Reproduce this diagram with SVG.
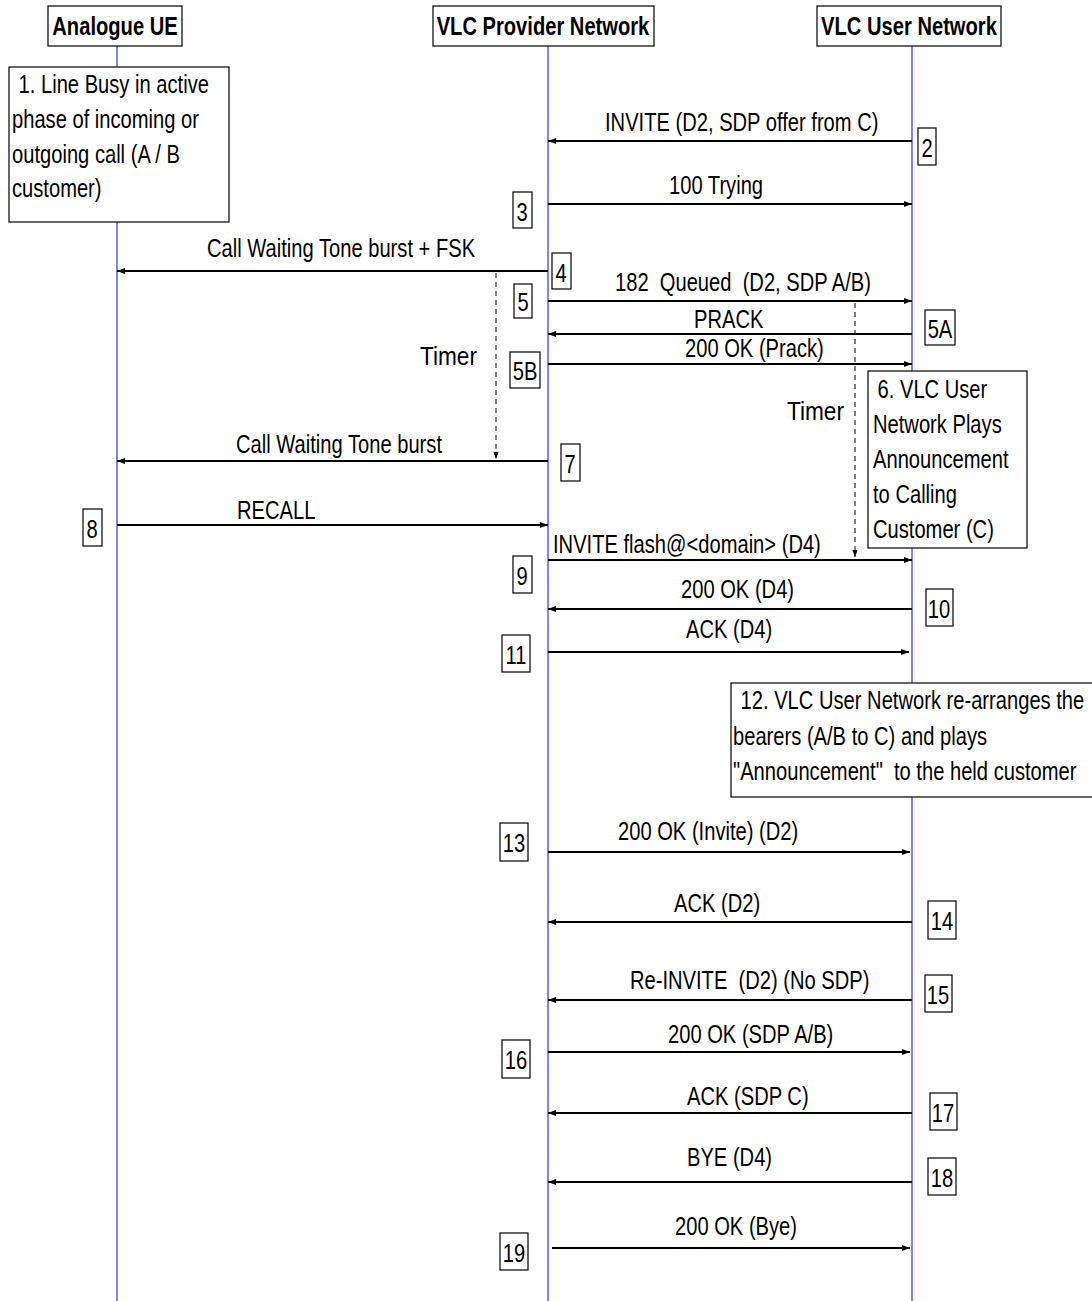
<svg xmlns="http://www.w3.org/2000/svg" width="1092" height="1301" viewBox="0 0 1092 1301">
<style>
text{font-family:"Liberation Sans",Arial,sans-serif;font-size:26px;fill:#000;white-space:pre}
.hd{font-weight:bold}
.box{fill:#fff;stroke:#000;stroke-width:1.2}
.life{stroke:#3030ff;stroke-width:1.2;fill:none}
.msg{stroke:#000;stroke-width:2;fill:none}
.tmr{stroke:#000;stroke-width:1;stroke-dasharray:5 4;fill:none}
</style>
<defs>
<marker id="ah" viewBox="0 0 8 6" refX="8" refY="3" markerWidth="8" markerHeight="6" markerUnits="userSpaceOnUse" orient="auto">
<path d="M0,0 L8,3 L0,6 z" fill="#000"/>
</marker>
<marker id="ahs" viewBox="0 0 8 6" refX="8" refY="3" markerWidth="7" markerHeight="6" markerUnits="userSpaceOnUse" orient="auto">
<path d="M0,0 L8,3 L0,6 z" fill="#000"/>
</marker>
</defs>
<rect width="1092" height="1301" fill="#fff"/>
<g id="lifelines">
<line class="life" x1="117" y1="46" x2="117" y2="1301"/>
<line class="life" x1="548" y1="46" x2="548" y2="1301"/>
<line class="life" x1="912" y1="46" x2="912" y2="1301"/>
</g>
<g id="node-analogue-ue"><rect class="box" x="48" y="6" width="134" height="40"/><text class="hd" x="115" y="35" text-anchor="middle" transform="translate(25.875,0) scale(0.775,1)">Analogue UE</text></g>
<g id="node-vlc-provider"><rect class="box" x="433" y="6" width="221" height="40"/><text class="hd" x="543" y="35" text-anchor="middle" transform="translate(122.175,0) scale(0.775,1)">VLC Provider Network</text></g>
<g id="node-vlc-user"><rect class="box" x="817" y="6" width="184" height="40"/><text class="hd" x="909" y="35" text-anchor="middle" transform="translate(204.525,0) scale(0.775,1)">VLC User Network</text></g>
<g id="connectors">
<line class="msg" x1="912" y1="141" x2="548" y2="141" marker-end="url(#ah)"/>
<line class="msg" x1="548" y1="204" x2="912" y2="204" marker-end="url(#ah)"/>
<line class="msg" x1="548" y1="271" x2="117" y2="271" marker-end="url(#ah)"/>
<line class="msg" x1="548" y1="301" x2="912" y2="301" marker-end="url(#ah)"/>
<line class="msg" x1="912" y1="334" x2="548" y2="334" marker-end="url(#ah)"/>
<line class="msg" x1="548" y1="364" x2="912" y2="364" marker-end="url(#ah)"/>
<line class="tmr" x1="496" y1="273" x2="496" y2="459" marker-end="url(#ahs)"/>
<line class="tmr" x1="855" y1="303" x2="855" y2="557" marker-end="url(#ahs)"/>
<line class="msg" x1="548" y1="461" x2="117" y2="461" marker-end="url(#ah)"/>
<line class="msg" x1="117" y1="525" x2="548" y2="525" marker-end="url(#ah)"/>
<line class="msg" x1="548" y1="560" x2="912" y2="560" marker-end="url(#ah)"/>
<line class="msg" x1="912" y1="609" x2="548" y2="609" marker-end="url(#ah)"/>
<line class="msg" x1="548" y1="652" x2="909" y2="652" marker-end="url(#ah)"/>
<line class="msg" x1="548" y1="852" x2="910" y2="852" marker-end="url(#ah)"/>
<line class="msg" x1="912" y1="922" x2="548" y2="922" marker-end="url(#ah)"/>
<line class="msg" x1="912" y1="1000" x2="548" y2="1000" marker-end="url(#ah)"/>
<line class="msg" x1="548" y1="1052" x2="910" y2="1052" marker-end="url(#ah)"/>
<line class="msg" x1="912" y1="1113" x2="548" y2="1113" marker-end="url(#ah)"/>
<line class="msg" x1="912" y1="1182" x2="548" y2="1182" marker-end="url(#ah)"/>
<line class="msg" x1="552" y1="1248" x2="910" y2="1248" marker-end="url(#ah)"/>
</g>
<g id="labels">
<text x="605" y="131" transform="translate(136.125,0) scale(0.775,1)">INVITE (D2, SDP offer from C)</text>
<text x="669" y="194" transform="translate(150.525,0) scale(0.775,1)">100 Trying</text>
<text x="207" y="257" transform="translate(46.575,0) scale(0.775,1)">Call Waiting Tone burst + FSK</text>
<text x="615" y="291" transform="translate(138.375,0) scale(0.775,1)">182  Queued  (D2, SDP A/B)</text>
<text x="694" y="328" transform="translate(156.15,0) scale(0.775,1)">PRACK</text>
<text x="685" y="357" transform="translate(154.125,0) scale(0.775,1)">200 OK (Prack)</text>
<text x="420" y="365" transform="translate(54.6,0) scale(0.87,1)">Timer</text>
<text x="787" y="420" transform="translate(102.31,0) scale(0.87,1)">Timer</text>
<text x="236" y="453" transform="translate(53.1,0) scale(0.775,1)">Call Waiting Tone burst</text>
<text x="237" y="519" transform="translate(53.325,0) scale(0.775,1)">RECALL</text>
<text x="553" y="553" transform="translate(124.425,0) scale(0.775,1)">INVITE flash@&lt;domain&gt; (D4)</text>
<text x="681" y="598" transform="translate(153.225,0) scale(0.775,1)">200 OK (D4)</text>
<text x="686" y="638" transform="translate(154.35,0) scale(0.775,1)">ACK (D4)</text>
<text x="618" y="840" transform="translate(139.05,0) scale(0.775,1)">200 OK (Invite) (D2)</text>
<text x="674" y="912" transform="translate(151.65,0) scale(0.775,1)">ACK (D2)</text>
<text x="630" y="989" transform="translate(141.75,0) scale(0.775,1)">Re-INVITE  (D2) (No SDP)</text>
<text x="668" y="1043" transform="translate(150.3,0) scale(0.775,1)">200 OK (SDP A/B)</text>
<text x="687" y="1105" transform="translate(154.575,0) scale(0.775,1)">ACK (SDP C)</text>
<text x="687" y="1166" transform="translate(154.575,0) scale(0.775,1)">BYE (D4)</text>
<text x="675" y="1235" transform="translate(151.875,0) scale(0.775,1)">200 OK (Bye)</text>
</g>
<g id="note-1"><rect class="box" x="9" y="67" width="220" height="155"/>
<text x="13" y="93" transform="translate(2.925,0) scale(0.775,1)"> 1. Line Busy in active</text>
<text x="12" y="128" transform="translate(2.7,0) scale(0.775,1)">phase of incoming or</text>
<text x="12" y="163" transform="translate(2.7,0) scale(0.775,1)">outgoing call (A / B</text>
<text x="12" y="197" transform="translate(2.7,0) scale(0.775,1)">customer)</text></g>
<g id="note-6"><rect class="box" x="868" y="371" width="159" height="177"/>
<text x="872" y="398" transform="translate(196.2,0) scale(0.775,1)"> 6. VLC User</text>
<text x="873" y="433" transform="translate(196.425,0) scale(0.775,1)">Network Plays</text>
<text x="873" y="468" transform="translate(196.425,0) scale(0.775,1)">Announcement</text>
<text x="873" y="503" transform="translate(196.425,0) scale(0.775,1)">to Calling</text>
<text x="873" y="538" transform="translate(196.425,0) scale(0.775,1)">Customer (C)</text></g>
<g id="note-12"><rect class="box" x="731" y="683" width="370" height="114"/>
<text x="735" y="709" transform="translate(165.375,0) scale(0.775,1)"> 12. VLC User Network re-arranges the</text>
<text x="733" y="745" transform="translate(164.925,0) scale(0.775,1)">bearers (A/B to C) and plays</text>
<text x="733" y="780" transform="translate(164.925,0) scale(0.775,1)">"Announcement"  to the held customer</text></g>
<g id="step-2"><rect class="box" x="918" y="128" width="18" height="37"/><text x="927" y="157" text-anchor="middle" transform="translate(208.575,0) scale(0.775,1)">2</text></g>
<g id="step-3"><rect class="box" x="513" y="192" width="19" height="36"/><text x="522" y="221" text-anchor="middle" transform="translate(117.45,0) scale(0.775,1)">3</text></g>
<g id="step-4"><rect class="box" x="552" y="253" width="19" height="36"/><text x="561" y="282" text-anchor="middle" transform="translate(126.225,0) scale(0.775,1)">4</text></g>
<g id="step-5"><rect class="box" x="514" y="284" width="18" height="34"/><text x="523" y="311" text-anchor="middle" transform="translate(117.675,0) scale(0.775,1)">5</text></g>
<g id="step-5a"><rect class="box" x="925" y="310" width="30" height="35"/><text x="940" y="338" text-anchor="middle" transform="translate(211.5,0) scale(0.775,1)">5A</text></g>
<g id="step-5b"><rect class="box" x="510" y="352" width="30" height="36"/><text x="525" y="380" text-anchor="middle" transform="translate(118.125,0) scale(0.775,1)">5B</text></g>
<g id="step-7"><rect class="box" x="561" y="444" width="19" height="37"/><text x="570" y="473" text-anchor="middle" transform="translate(128.25,0) scale(0.775,1)">7</text></g>
<g id="step-8"><rect class="box" x="83" y="509" width="19" height="37"/><text x="92" y="538" text-anchor="middle" transform="translate(20.7,0) scale(0.775,1)">8</text></g>
<g id="step-9"><rect class="box" x="513" y="556" width="19" height="37"/><text x="522" y="585" text-anchor="middle" transform="translate(117.45,0) scale(0.775,1)">9</text></g>
<g id="step-10"><rect class="box" x="926" y="589" width="27" height="37"/><text x="939" y="618" text-anchor="middle" transform="translate(211.275,0) scale(0.775,1)">10</text></g>
<g id="step-11"><rect class="box" x="502" y="635" width="28" height="37"/><text x="516" y="664" text-anchor="middle" transform="translate(116.1,0) scale(0.775,1)">11</text></g>
<g id="step-13"><rect class="box" x="500" y="823" width="28" height="38"/><text x="514" y="852" text-anchor="middle" transform="translate(115.65,0) scale(0.775,1)">13</text></g>
<g id="step-14"><rect class="box" x="928" y="901" width="28" height="38"/><text x="942" y="930" text-anchor="middle" transform="translate(211.95,0) scale(0.775,1)">14</text></g>
<g id="step-15"><rect class="box" x="925" y="975" width="27" height="37"/><text x="938" y="1004" text-anchor="middle" transform="translate(211.05,0) scale(0.775,1)">15</text></g>
<g id="step-16"><rect class="box" x="502" y="1040" width="28" height="38"/><text x="516" y="1069" text-anchor="middle" transform="translate(116.1,0) scale(0.775,1)">16</text></g>
<g id="step-17"><rect class="box" x="930" y="1093" width="27" height="37"/><text x="943" y="1122" text-anchor="middle" transform="translate(212.175,0) scale(0.775,1)">17</text></g>
<g id="step-18"><rect class="box" x="928" y="1158" width="28" height="37"/><text x="942" y="1187" text-anchor="middle" transform="translate(211.95,0) scale(0.775,1)">18</text></g>
<g id="step-19"><rect class="box" x="500" y="1233" width="28" height="37"/><text x="514" y="1262" text-anchor="middle" transform="translate(115.65,0) scale(0.775,1)">19</text></g>
</svg>
